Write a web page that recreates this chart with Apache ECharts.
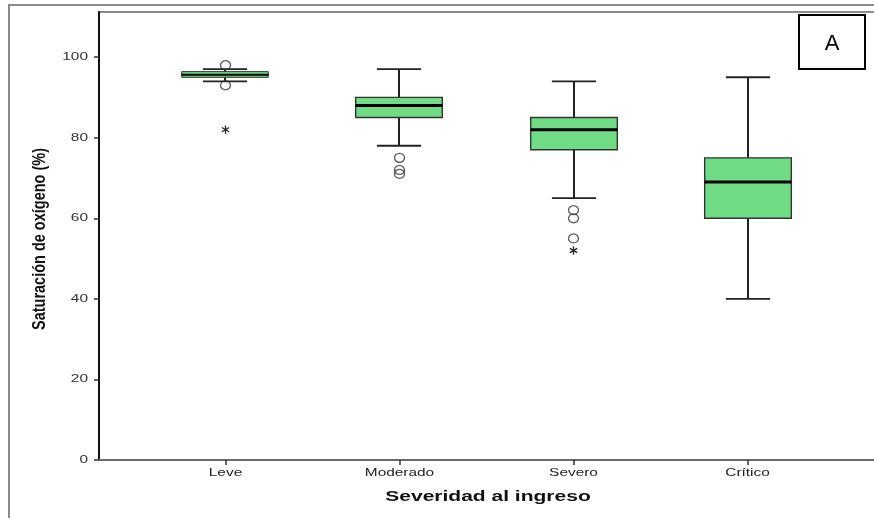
<!DOCTYPE html>
<html>
<head>
<meta charset="utf-8">
<script src="https://cdn.jsdelivr.net/npm/echarts@6/dist/echarts.min.js"></script>
<style>
html, body { margin: 0; padding: 0; background: #fff; }
#chart { width: 874px; height: 518px; }
</style>
</head>
<body>
<div id="chart"></div>
<script>
// Oxygen saturation (%) by severity at admission
const categories = ['Leve', 'Moderado', 'Severo', 'Crítico'];
const whiskerLow = [94, 78, 65, 40];
const quartile1 = [95, 85, 77, 60];
const medians = [95.6, 88, 82, 69];
const quartile3 = [96.4, 90, 85, 75];
const whiskerHigh = [97, 97, 94, 95];

// Outliers (circles) and extreme values (asterisks)
const outlierGroup = [0, 0, 1, 1, 1, 2, 2, 2];
const outlierValues = [98, 93, 75, 72, 71, 62, 60, 55];
const extremeGroup = [0, 2];
const extremeValues = [82, 52];

const yTicks = [0, 20, 40, 60, 80, 100];
const xPositions = [0, 1, 2, 3];

const X_MIN = -0.727;
const X_MAX = 3.727;
const FONT = 'Liberation Sans, Arial, Helvetica, sans-serif';
const WIDE = 1.4; // horizontal stretch of the lettering

const boxRows = categories.map((c, i) => [i, whiskerLow[i], quartile1[i], medians[i], quartile3[i], whiskerHigh[i]]);
const outlierRows = outlierValues.map((v, i) => [outlierGroup[i], v]);
const extremeRows = extremeValues.map((v, i) => [extremeGroup[i], v]);
const xLabelRows = xPositions.map(i => [i, 0]);
const yLabelRows = yTicks.map(v => [X_MIN, v]);

function renderBox(params, api) {
  const i = api.value(0);
  const band = api.size([1, 0])[0];
  const half = band * 0.249;
  const capHalf = band * 0.127;
  const pLow = api.coord([i, api.value(1)]);
  const pQ1 = api.coord([i, api.value(2)]);
  const pMed = api.coord([i, api.value(3)]);
  const pQ3 = api.coord([i, api.value(4)]);
  const pHigh = api.coord([i, api.value(5)]);
  const x = Math.round(pMed[0]);
  const stem = { stroke: '#222', lineWidth: 2 };
  const cap = { stroke: '#222', lineWidth: 1.8 };
  const thin = (pQ1[1] - pQ3[1]) < 8;
  return {
    type: 'group',
    children: [
      { type: 'line', shape: { x1: x, y1: pHigh[1], x2: x, y2: pQ3[1] }, style: stem },
      { type: 'line', shape: { x1: x, y1: pQ1[1], x2: x, y2: pLow[1] }, style: stem },
      { type: 'line', shape: { x1: x - capHalf, y1: pHigh[1], x2: x + capHalf, y2: pHigh[1] }, style: cap },
      { type: 'line', shape: { x1: x - capHalf, y1: pLow[1], x2: x + capHalf, y2: pLow[1] }, style: cap },
      { type: 'rect', shape: { x: x - half, y: pQ3[1], width: half * 2, height: pQ1[1] - pQ3[1] },
        style: { fill: '#6fdc84', stroke: '#333', lineWidth: thin ? 1 : 1.4 } },
      { type: 'line', shape: { x1: x - half, y1: pMed[1], x2: x + half, y2: pMed[1] },
        style: { stroke: '#000', lineWidth: thin ? 2 : 3 } }
    ]
  };
}

function renderStar(params, api) {
  const p = api.coord([api.value(0), api.value(1)]);
  const r = 4.2;
  const s = { stroke: '#222', lineWidth: 1.3 };
  const kids = [];
  for (let k = 0; k < 3; k++) {
    const a = Math.PI / 2 + k * Math.PI / 3;
    kids.push({ type: 'line', shape: { x1: p[0] - r * Math.cos(a), y1: p[1] - r * Math.sin(a), x2: p[0] + r * Math.cos(a), y2: p[1] + r * Math.sin(a) }, style: s });
  }
  return { type: 'group', children: kids };
}

// category names under the x axis
function renderXLabel(params, api) {
  const i = api.value(0);
  const p = api.coord([i, api.value(1)]);
  return {
    type: 'text', x: p[0], y: p[1] + 13, scaleX: WIDE,
    style: { text: categories[i], fontSize: 11, fontFamily: FONT, fill: '#222', align: 'center', verticalAlign: 'middle' }
  };
}

// tick values left of the y axis
function renderYLabel(params, api) {
  const v = api.value(1);
  const p = api.coord([api.value(0), v]);
  return {
    type: 'text', x: p[0] - 11, y: p[1], scaleX: WIDE,
    style: { text: String(v), fontSize: 11, fontFamily: FONT, fill: '#333', align: 'right', verticalAlign: 'middle' }
  };
}

const chart = echarts.init(document.getElementById('chart'), null, { renderer: 'canvas' });
chart.setOption({
  animation: false,
  backgroundColor: '#fff',
  grid: { left: 99, top: 12, width: 778, height: 448, show: false },
  xAxis: {
    type: 'value',
    min: X_MIN,
    max: X_MAX,
    splitLine: { show: false },
    axisLine: { show: true, onZero: false, lineStyle: { color: '#6a6a6a', width: 2 } },
    axisTick: { show: true, customValues: xPositions, length: 5, lineStyle: { color: '#333', width: 1.5 } },
    axisLabel: { show: false }
  },
  yAxis: {
    type: 'value',
    min: 0,
    max: 111.2,
    splitLine: { show: false },
    axisLine: { show: true, onZero: false, lineStyle: { color: '#111', width: 2 } },
    axisTick: { show: true, customValues: yTicks, length: 5, lineStyle: { color: '#333', width: 1.5 } },
    axisLabel: { show: false }
  },
  graphic: [
    // outer frame lines
    { type: 'line', shape: { x1: 9, y1: 5, x2: 9, y2: 518 }, style: { stroke: '#8a8a8a', lineWidth: 2 }, silent: true },
    { type: 'line', shape: { x1: 8, y1: 5, x2: 874, y2: 5 }, style: { stroke: '#8a8a8a', lineWidth: 2 }, silent: true },
    // plot area top edge
    { type: 'line', shape: { x1: 99, y1: 12, x2: 874, y2: 12 }, style: { stroke: '#8a8a8a', lineWidth: 2 }, silent: true },
    // panel letter
    { type: 'rect', shape: { x: 799, y: 15, width: 66, height: 54 }, style: { fill: '#fff', stroke: '#000', lineWidth: 2 }, z: 10 },
    { type: 'text', x: 832, y: 44, z: 11,
      style: { text: 'A', fontSize: 22, fontFamily: FONT, fill: '#000', align: 'center', verticalAlign: 'middle' } },
    // axis titles
    { type: 'text', x: 488, y: 497, z: 5, scaleX: WIDE,
      style: { text: 'Severidad al ingreso', fontSize: 15, fontWeight: 'bold', fontFamily: FONT, fill: '#111', align: 'center', verticalAlign: 'middle' } },
    { type: 'text', x: 40, y: 239, rotation: Math.PI / 2, scaleY: 1.3, z: 5,
      style: { text: 'Saturación de oxígeno (%)', fontSize: 14.5, fontWeight: 'bold', fontFamily: FONT, fill: '#111', align: 'center', verticalAlign: 'middle' } }
  ],
  series: [
    {
      type: 'custom',
      name: 'boxes',
      data: boxRows,
      encode: { x: 0, y: [1, 2, 3, 4, 5] },
      renderItem: renderBox,
      clip: false,
      z: 2
    },
    {
      type: 'scatter',
      name: 'outliers',
      data: outlierRows,
      symbol: 'circle',
      symbolSize: [10, 9],
      itemStyle: { color: 'rgba(255,255,255,0)', borderColor: '#333', borderWidth: 1.3 },
      z: 3
    },
    {
      type: 'custom',
      name: 'extremes',
      data: extremeRows,
      encode: { x: 0, y: 1 },
      renderItem: renderStar,
      z: 3
    },
    {
      type: 'custom',
      name: 'xLabels',
      data: xLabelRows,
      encode: { x: 0, y: 1 },
      renderItem: renderXLabel,
      clip: false,
      silent: true
    },
    {
      type: 'custom',
      name: 'yLabels',
      data: yLabelRows,
      encode: { x: 0, y: 1 },
      renderItem: renderYLabel,
      clip: false,
      silent: true
    }
  ]
});
</script>
</body>
</html>
